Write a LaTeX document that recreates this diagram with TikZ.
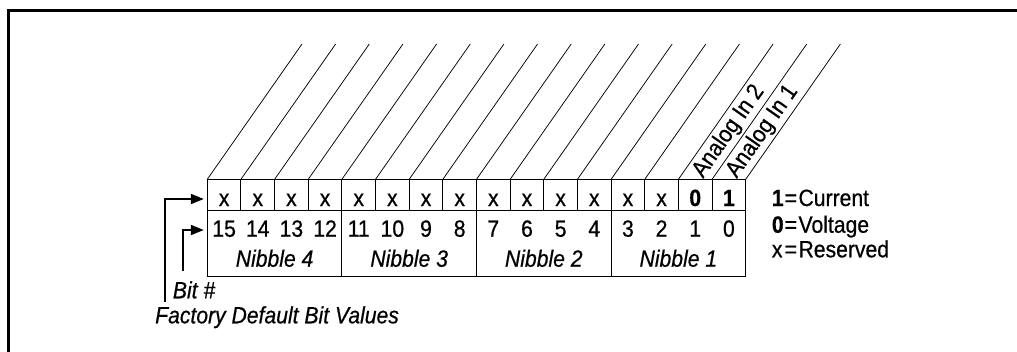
\documentclass[tikz,border=0pt]{standalone}
\usepackage{fontspec}
\setmainfont[FakeStretch=0.9,FakeBold=0.6]{Liberation Sans}
\usetikzlibrary{arrows.meta}
\begin{document}
\begin{tikzpicture}[x=1pt,y=-1pt,
  celltext/.style={font=\fontsize{23.5}{26}\selectfont, inner sep=0, anchor=base},
  lbl/.style={font=\fontsize{23.5}{26}\selectfont\itshape, inner sep=0},
  legend/.style={font=\fontsize{23.5}{26}\selectfont, inner sep=0, anchor=base west},
  analog/.style={font=\fontsize{23.5}{26}\selectfont, inner sep=0, rotate=55, anchor=west},
  boxline/.style={line width=1pt},
  diag/.style={line width=0.75pt},
  arr/.style={line width=1.8pt, shorten >=3.5pt, -{Triangle[length=13pt,width=10pt]}},
  framerule/.style={line width=3pt}]
\useasboundingbox (0,0) rectangle (1017,351);
\draw[framerule] (8.5,352) -- (8.5,10) -- (1018,10);
% corner coordinates
\foreach \i in {0,...,16}{
  \coordinate (t\i) at ({207.3+33.65*\i},179.3);
  \coordinate (m\i) at ({207.3+33.65*\i},210.7);
  \coordinate (b\i) at ({207.3+33.65*\i},276);
}
% box
\draw[boxline] (t0) rectangle (b16);
\draw[boxline] (m0) -- (m16);
\foreach \i in {1,...,15}{ \draw[boxline] (t\i) -- (m\i); }
\foreach \i in {4,8,12}{ \draw[boxline] (m\i) -- (b\i); }
% diagonals
\foreach \i in {0,...,16}{ \draw[diag] (t\i) -- ++(94.7,-135.3); }
% cell contents
\foreach \i in {0,...,13}{
  \pgfmathtruncatemacro{\bit}{15-\i}
  \node[celltext] (x\bit) at ({207.3+33.65*(\i+0.5)},206) {x};
  \node[celltext] (n\bit) at ({207.3+33.65*(\i+0.5)},236.7) {\bit};
}
\node[celltext] (x1) at ({207.3+33.65*14.5},206) {\textbf{0}};
\node[celltext] (x0) at ({207.3+33.65*15.5},206) {\textbf{1}};
\node[celltext] (n1) at ({207.3+33.65*14.5},236.7) {1};
\node[celltext] (n0) at ({207.3+33.65*15.5},236.7) {0};
% nibbles
\foreach \k/\lab in {0/4,1/3,2/2,3/1}{
  \node[lbl, anchor=base] (nib\lab) at ({207.3+33.65*(4*\k+2)},266.7) {Nibble \lab};
}
% analog labels
\node[analog] (a2) at (698,175.5) {Analog In 2};
\node[analog] (a1) at (731.7,175.5) {Analog In 1};
% legend
\node[legend] (l1) at (771.7,206) {\makebox[12.8pt][l]{\textbf{1}}=\kern1.5pt Current};
\node[legend] (l0) at (771.7,232.7) {\makebox[12.8pt][l]{\textbf{0}}=\kern1.5pt Voltage};
\node[legend] (lx) at (771.7,257.3) {\makebox[12.8pt][l]{x}=\kern1.5pt Reserved};
% arrows
\coordinate (ua) at (207.3,199);
\coordinate (la) at (207.3,230);
\coordinate (uv) at (165,302);
\coordinate (lv) at (183.3,271);
\draw[arr] (uv) |- (ua);
\draw[arr] (lv) |- (la);
\node[lbl, anchor=base west] (bitno) at (172.7,298.3) {Bit \#};
\node[lbl, anchor=base west] (fdbv) at (155,323.3) {Factory Default Bit Values};
\end{tikzpicture}
\end{document}
